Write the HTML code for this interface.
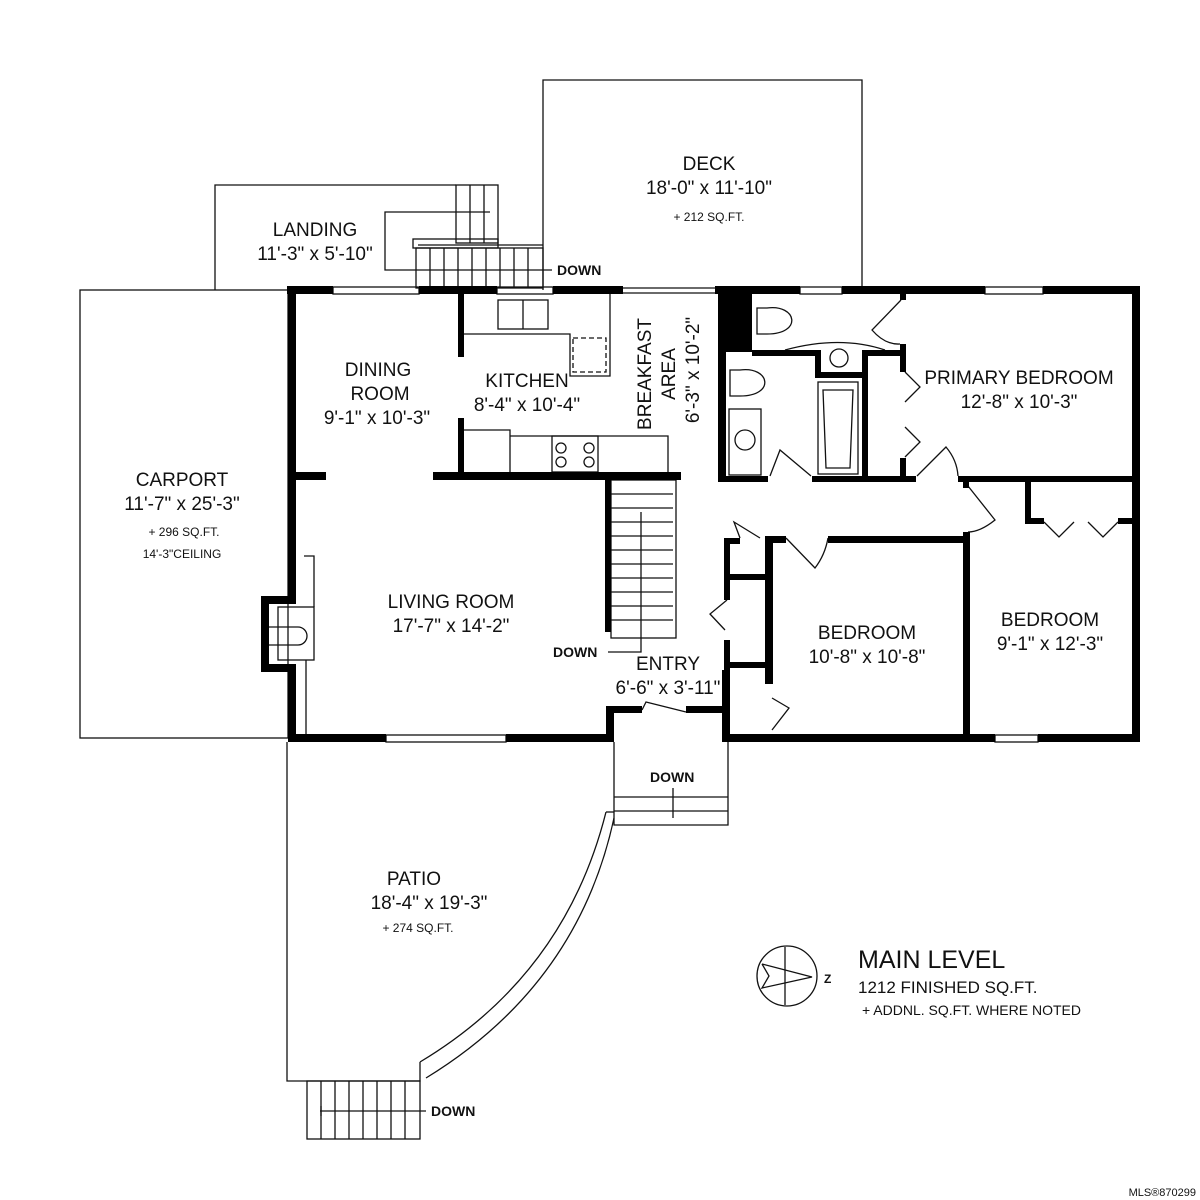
<!DOCTYPE html>
<html><head><style>
html,body{margin:0;padding:0;background:#fff;width:1200px;height:1200px;overflow:hidden}
svg text{font-family:"Liberation Sans",sans-serif;fill:#111}
</style></head><body>
<svg width="1200" height="1200" viewBox="0 0 1200 1200">
<g fill="none" stroke="#111" stroke-width="1.3">
<rect x="80" y="290" width="208" height="448"/>
<polyline points="215,290 215,185 456,185"/>
<polyline points="543,290 543,80 862,80 862,290"/>
<polyline points="287,742 287,1081 420,1081 420,1062"/>
<path d="M420,1062 Q565,975 606,812"/>
<path d="M426,1078 Q578,985 614,818"/>
<line x1="606" y1="812" x2="614" y2="812"/>
<rect x="307" y="1081" width="113" height="58"/>
<g>
<line x1="321" y1="1081" x2="321" y2="1139"/><line x1="335" y1="1081" x2="335" y2="1139"/><line x1="349" y1="1081" x2="349" y2="1139"/><line x1="363" y1="1081" x2="363" y2="1139"/><line x1="377" y1="1081" x2="377" y2="1139"/><line x1="391" y1="1081" x2="391" y2="1139"/><line x1="405" y1="1081" x2="405" y2="1139"/>
<line x1="320" y1="1111" x2="426" y2="1111"/><line x1="321" y1="1106" x2="321" y2="1116"/>
</g>
<polyline points="614,742 614,825 728,825 728,742"/>
<line x1="614" y1="797" x2="728" y2="797"/><line x1="614" y1="811" x2="728" y2="811"/>
<line x1="673" y1="788" x2="673" y2="818"/>
<rect x="456" y="185" width="42" height="58"/>
<line x1="470" y1="185" x2="470" y2="243"/><line x1="484" y1="185" x2="484" y2="243"/>
<rect x="413" y="239" width="85" height="9"/>
<line x1="418" y1="245" x2="543" y2="245"/>
<rect x="416" y="248" width="127" height="40"/>
<line x1="430" y1="248" x2="430" y2="288"/><line x1="444" y1="248" x2="444" y2="288"/><line x1="458" y1="248" x2="458" y2="288"/><line x1="472" y1="248" x2="472" y2="288"/><line x1="486" y1="248" x2="486" y2="288"/><line x1="500" y1="248" x2="500" y2="288"/><line x1="514" y1="248" x2="514" y2="288"/><line x1="528" y1="248" x2="528" y2="288"/>
<polyline points="552,270 385,270 385,212 490,212"/>
<rect x="611" y="480" width="65" height="158"/>
<line x1="611" y1="494" x2="673" y2="494"/><line x1="611" y1="508" x2="673" y2="508"/><line x1="611" y1="522" x2="673" y2="522"/><line x1="611" y1="536" x2="673" y2="536"/><line x1="611" y1="550" x2="673" y2="550"/><line x1="611" y1="564" x2="673" y2="564"/><line x1="611" y1="578" x2="673" y2="578"/><line x1="611" y1="592" x2="673" y2="592"/><line x1="611" y1="606" x2="673" y2="606"/><line x1="611" y1="620" x2="673" y2="620"/>
<polyline points="608,652 641,652 641,512"/>
<rect x="278" y="607" width="36" height="53"/>
<path d="M269,627 H298 A9,9 0 0 1 298,645 H269"/>
<polyline points="304,556 314,556 314,607"/>
<line x1="306" y1="660" x2="306" y2="734"/>
<polyline points="464,334 570,334 570,376 610,376 610,294"/>
<rect x="498" y="300" width="50" height="29"/>
<line x1="523" y1="300" x2="523" y2="329"/>
<rect x="573" y="338" width="33" height="34" stroke-dasharray="5,3"/>
<polyline points="464,430 510,430 510,472"/>
<polyline points="510,436 668,436 668,472"/>
<rect x="552" y="436" width="46" height="36"/>
<circle cx="561" cy="448" r="5"/><circle cx="561" cy="462" r="5"/><circle cx="589" cy="448" r="5"/><circle cx="589" cy="462" r="5"/>
<line x1="623" y1="288" x2="715" y2="288"/><line x1="623" y1="293" x2="715" y2="293"/>
<path d="M757,308 h10 c30,-4 36,26 0,26 h-10 z"/>
<path d="M730,370 h10 c30,-4 36,26 0,26 h-10 z"/>
<rect x="729" y="409" width="32" height="66"/>
<circle cx="745" cy="440" r="10"/>
<circle cx="839" cy="358" r="9"/>
<rect x="818" y="382" width="40" height="92"/>
<path d="M823,390 h30 l-3,78 h-24 z"/>
<path d="M785,350 Q840,335 885,350"/>
<path d="M901,300 L872,330 Q885,345 900,344"/>
<path d="M905,372 L920,387 L905,402"/>
<path d="M905,427 L920,442 L905,457"/>
<path d="M770,476 L780,450 L811,476"/>
<path d="M917,476 L946,447 Q957,460 958,476"/>
<path d="M968,486 L995,520 Q980,532 968,532"/>
<path d="M1044,522 L1059,537 L1074,522"/>
<path d="M1088,522 L1103,537 L1118,522"/>
<path d="M740,538 L734,522 L760,538"/>
<path d="M786,538 L815,568 Q825,555 828,538"/>
<path d="M727,600 L710,614 L725,630"/>
<path d="M772,698 L789,708 L772,730"/>
<path d="M642,710 L646,702 L686,712"/>
<rect x="333" y="287" width="86" height="7"/><rect x="497" y="287" width="56" height="7"/>
<rect x="800" y="287" width="42" height="7"/><rect x="985" y="287" width="58" height="7"/>
<rect x="386" y="735" width="120" height="7"/><rect x="995" y="735" width="43" height="7"/>
<circle cx="787" cy="976" r="30"/>
<line x1="785" y1="947" x2="785" y2="1005"/>
<polyline points="762,964 812,977 762,988 769,976 762,964"/>
</g>
<g fill="#000">
<rect x="287" y="286" width="46" height="8"/><rect x="419" y="286" width="78" height="8"/><rect x="553" y="286" width="70" height="8"/>
<rect x="715" y="286" width="85" height="8"/><rect x="842" y="286" width="143" height="8"/><rect x="1043" y="286" width="97" height="8"/>
<rect x="288" y="286" width="8" height="310"/><rect x="261" y="596" width="35" height="8"/><rect x="261" y="596" width="8" height="76"/><rect x="261" y="664" width="35" height="8"/><rect x="288" y="664" width="8" height="78"/>
<rect x="288" y="734" width="98" height="8"/><rect x="506" y="734" width="108" height="8"/>
<rect x="606" y="706" width="8" height="36"/><rect x="606" y="706" width="36" height="7"/><rect x="686" y="706" width="40" height="7"/>
<rect x="722" y="670" width="8" height="72"/><rect x="722" y="734" width="273" height="8"/><rect x="1038" y="734" width="102" height="8"/>
<rect x="1132" y="286" width="8" height="456"/>
<rect x="458" y="294" width="6" height="63"/><rect x="458" y="418" width="6" height="58"/>
<rect x="296" y="472" width="30" height="8"/><rect x="433" y="472" width="248" height="8"/>
<rect x="605" y="480" width="6" height="152"/>
<rect x="718" y="290" width="34" height="62"/><rect x="718" y="290" width="8" height="190"/>
<rect x="752" y="350" width="64" height="6"/><rect x="815" y="350" width="6" height="26"/><rect x="815" y="372" width="52" height="6"/><rect x="862" y="350" width="6" height="130"/><rect x="862" y="350" width="38" height="6"/>
<rect x="900" y="294" width="6" height="6"/><rect x="900" y="344" width="6" height="28"/><rect x="900" y="458" width="6" height="22"/>
<rect x="718" y="476" width="50" height="6"/><rect x="812" y="476" width="104" height="6"/><rect x="958" y="476" width="180" height="6"/>
<rect x="963" y="482" width="6" height="6"/><rect x="1025" y="482" width="6" height="42"/><rect x="1025" y="518" width="19" height="6"/><rect x="1118" y="518" width="18" height="6"/>
<rect x="963" y="532" width="7" height="206"/>
<rect x="828" y="536" width="140" height="7"/><rect x="765" y="536" width="21" height="7"/>
<rect x="765" y="536" width="8" height="148"/><rect x="724" y="538" width="16" height="6"/><rect x="724" y="538" width="6" height="62"/><rect x="724" y="640" width="6" height="100"/>
<rect x="730" y="574" width="36" height="6"/><rect x="730" y="662" width="36" height="6"/>
</g>
<g text-anchor="middle" font-size="19">
<text x="709" y="170">DECK</text><text x="709" y="194">18'-0" x 11'-10"</text>
<text x="709" y="221" font-size="12">+ 212 SQ.FT.</text>
<text x="315" y="236">LANDING</text><text x="315" y="260">11'-3" x 5'-10"</text>
<text x="378" y="376">DINING</text><text x="380" y="400">ROOM</text><text x="377" y="424">9'-1" x 10'-3"</text>
<text x="527" y="387">KITCHEN</text><text x="527" y="411">8'-4" x 10'-4"</text>
<text x="182" y="486">CARPORT</text><text x="182" y="510">11'-7" x 25'-3"</text>
<text x="184" y="536" font-size="12">+ 296 SQ.FT.</text><text x="182" y="558" font-size="12">14'-3"CEILING</text>
<text x="451" y="608">LIVING ROOM</text><text x="451" y="632">17'-7" x 14'-2"</text>
<text x="668" y="670">ENTRY</text><text x="668" y="694">6'-6" x 3'-11"</text>
<text x="1019" y="384">PRIMARY BEDROOM</text><text x="1019" y="408">12'-8" x 10'-3"</text>
<text x="867" y="639">BEDROOM</text><text x="867" y="663">10'-8" x 10'-8"</text>
<text x="1050" y="626">BEDROOM</text><text x="1050" y="650">9'-1" x 12'-3"</text>
<text x="414" y="885">PATIO</text><text x="429" y="909">18'-4" x 19'-3"</text>
<text x="418" y="932" font-size="12">+ 274 SQ.FT.</text>
<text transform="translate(651,374) rotate(-90)">BREAKFAST</text>
<text transform="translate(675,374) rotate(-90)">AREA</text>
<text transform="translate(699,370) rotate(-90)">6'-3" x 10'-2"</text>
</g>
<g font-size="14" font-weight="bold">
<text x="557" y="275">DOWN</text><text x="553" y="657">DOWN</text>
<text x="650" y="782">DOWN</text><text x="431" y="1116">DOWN</text>
<text x="824" y="983" font-size="12">Z</text>
</g>
<text x="858" y="968" font-size="25">MAIN LEVEL</text>
<text x="858" y="993" font-size="17">1212 FINISHED SQ.FT.</text>
<text x="862" y="1015" font-size="14">+ ADDNL. SQ.FT. WHERE NOTED</text>
<text x="1196" y="1196" font-size="11" fill="#777" text-anchor="end">MLS®870299</text>
</svg>
</body></html>
